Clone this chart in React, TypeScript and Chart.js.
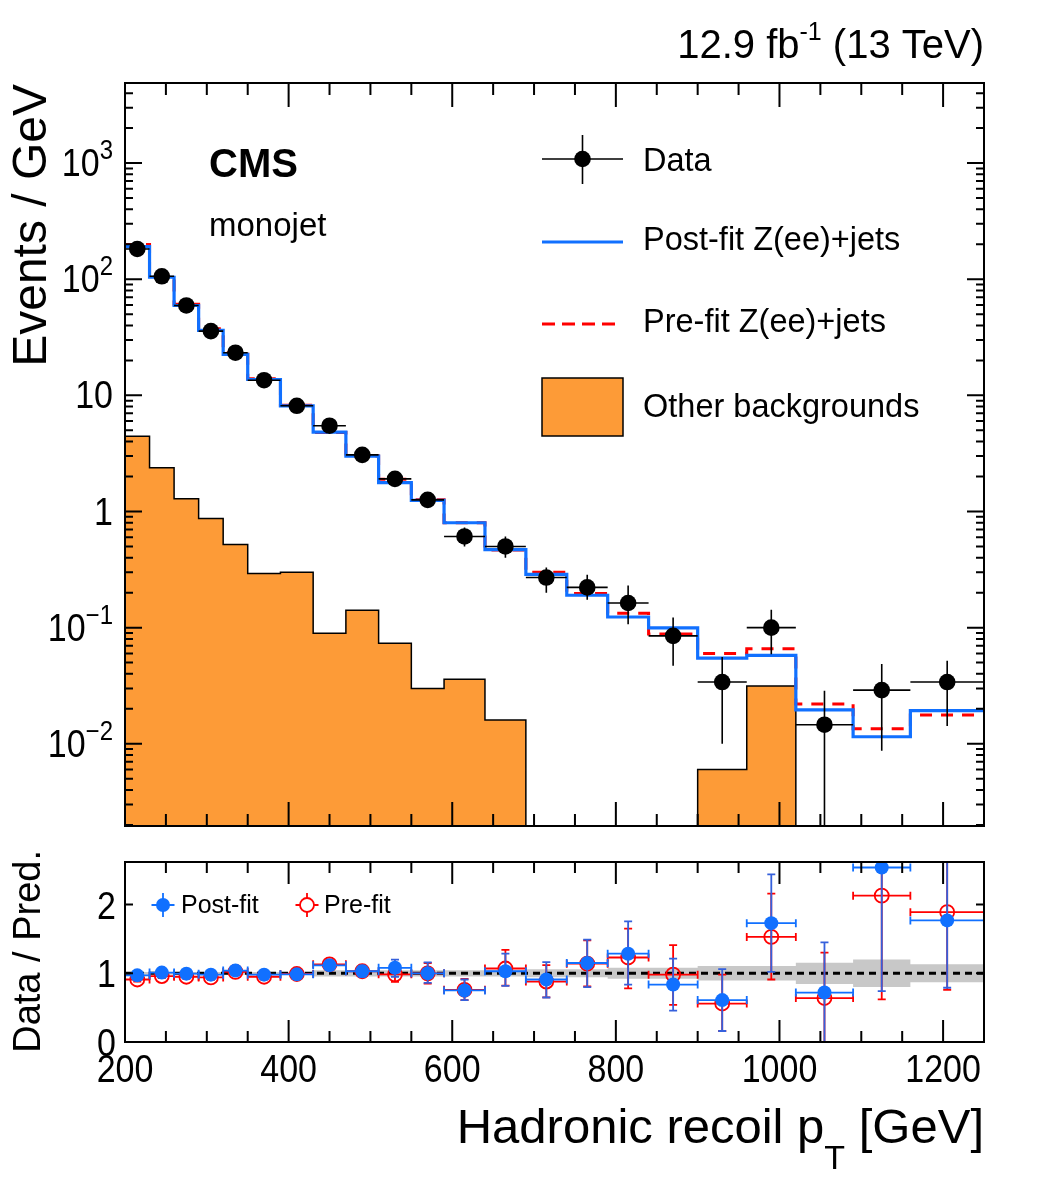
import React, { useEffect, useRef } from "react";
import { Chart, registerables } from "chart.js";

Chart.register(...registerables);

// ---------------- data ----------------
const binEdges = [200, 230, 260, 290, 320, 350, 390, 430, 470, 510, 550, 590, 640, 690, 740, 790, 840, 900, 960, 1020, 1090, 1160, 1250];

const dataValues = [182, 106, 59.4, 35.7, 23.3, 13.5, 8.13, 5.48, 3.07, 1.91, 1.26, 0.61, 0.5, 0.27, 0.222, 0.163, 0.085, 0.034, 0.1, 0.0146, 0.029, 0.034];
const dataErrUp = [2.5, 1.9, 1.4, 1.1, 0.8, 0.6, 0.45, 0.37, 0.28, 0.22, 0.18, 0.12, 0.108, 0.06, 0.064, 0.068, 0.037, 0.022, 0.0425, 0.014, 0.0196, 0.018];
const dataErrDown = [2.5, 1.9, 1.4, 1.1, 0.8, 0.6, 0.45, 0.37, 0.28, 0.22, 0.18, 0.11, 0.1, 0.07, 0.048, 0.056, 0.038, 0.024, 0.041, 0.0146, 0.0203, 0.0198];

const postFitZee = [191, 104, 59.4, 36.3, 22.5, 13.7, 8.13, 4.82, 3.0, 1.77, 1.245, 0.8, 0.47, 0.287, 0.19, 0.1235, 0.0997, 0.0547, 0.0577, 0.0196, 0.0115, 0.0193];
const preFitZee = [199, 108, 61, 37.5, 23.3, 13.9, 8.2, 4.8, 3.0, 1.9, 1.26, 0.8, 0.466, 0.3, 0.197, 0.133, 0.088, 0.06, 0.0657, 0.022, 0.0135, 0.0177];
const otherBackgrounds = [4.45, 2.38, 1.29, 0.87, 0.52, 0.293, 0.3, 0.0895, 0.141, 0.0735, 0.03, 0.036, 0.016, 0, 0, 0, 0, 0.006, 0.0314, 0, 0, 0];

const postFitRatio = [0.97, 1.01, 0.995, 0.98, 1.04, 0.98, 0.985, 1.116, 1.03, 1.08, 1.0, 0.75, 1.03, 0.91, 1.15, 1.285, 0.836, 0.61, 1.73, 0.72, 2.54, 1.77];
const postFitRatioErrUp = [0.03, 0.03, 0.03, 0.035, 0.04, 0.04, 0.05, 0.07, 0.08, 0.12, 0.16, 0.16, 0.256, 0.254, 0.34, 0.47, 0.377, 0.45, 0.71, 0.73, 1.8, 1.03];
const postFitRatioErrDown = [0.03, 0.03, 0.03, 0.035, 0.04, 0.04, 0.05, 0.07, 0.08, 0.13, 0.14, 0.14, 0.214, 0.262, 0.35, 0.45, 0.38, 0.45, 0.71, 0.72, 1.8, 0.98];
const preFitRatio = [0.91, 0.96, 0.95, 0.94, 1.02, 0.95, 0.99, 1.13, 1.03, 0.985, 1.0, 0.76, 1.07, 0.88, 1.14, 1.23, 0.98, 0.56, 1.53, 0.64, 2.13, 1.89];
const preFitRatioErrUp = [0.03, 0.03, 0.03, 0.035, 0.04, 0.04, 0.05, 0.07, 0.08, 0.11, 0.15, 0.16, 0.27, 0.24, 0.34, 0.42, 0.43, 0.42, 0.63, 0.66, 1.5, 1.1];
const preFitRatioErrDown = [0.03, 0.03, 0.03, 0.035, 0.04, 0.04, 0.05, 0.07, 0.08, 0.11, 0.15, 0.15, 0.25, 0.23, 0.33, 0.45, 0.44, 0.4, 0.62, 0.64, 1.51, 1.13];
const ratioUncHalf = [0.02, 0.02, 0.02, 0.02, 0.02, 0.02, 0.02, 0.045, 0.045, 0.045, 0.045, 0.045, 0.045, 0.058, 0.058, 0.08, 0.08, 0.106, 0.106, 0.155, 0.2, 0.13];

const xMajorTicks = [200, 400, 600, 800, 1000, 1200];
const xMajorLabels = ["200", "400", "600", "800", "1000", "1200"];
const xMinorTicks = [250, 300, 350, 450, 500, 550, 650, 700, 750, 850, 900, 950, 1050, 1100, 1150];
const yMajorTicks = [0.01, 0.1, 1, 10, 100, 1000];
const yTickBase = ["10", "10", "1", "10", "10", "10"];
const yTickExp = ["\u22122", "\u22121", "", "", "2", "3"];
const yMinorMantissas = [2, 3, 4, 5, 6, 7, 8, 9];
const yMinorDecades = [0.001, 0.01, 0.1, 1, 10, 100, 1000];
const ratioTicks = [0, 1, 2];
const ratioTickLabels = ["0", "1", "2"];

// ---------------- style ----------------
const FONT = '"Liberation Sans", Arial, Helvetica, sans-serif';
const BLUE = "#1170ff";
const BLUE_V = "#3560dc";
const RED = "#ff0000";
const ORANGE = "#fd9b37";
const BAND = "#c8c8c8";
const X_MIN = 200;
const X_MAX = 1250;
const Y_MIN = 0.00196;
const Y_MAX = 4890;
const R_MIN = 0;
const R_MAX = 2.62;
const BOT_OFF = 840;
const TICK_STRETCH = 1.12;

const centers = binEdges.slice(0, -1).map((e, i) => (e + binEdges[i + 1]) / 2);

function stepPoints(vals: number[], floor: number) {
  const pts = vals.map((v, i) => ({ x: binEdges[i], y: v > 0 ? v : floor }));
  const last = vals[vals.length - 1];
  pts.push({ x: binEdges[binEdges.length - 1], y: last > 0 ? last : floor });
  return pts;
}

function txt(ctx: CanvasRenderingContext2D, s: string, x: number, y: number, size: number, align: CanvasTextAlign = "left", bold = false, color = "#000") {
  ctx.font = `${bold ? "bold " : ""}${size}px ${FONT}`;
  ctx.textAlign = align;
  ctx.textBaseline = "alphabetic";
  ctx.fillStyle = color;
  ctx.fillText(s, x, y);
}

// text stretched vertically around its baseline
function txtS(ctx: CanvasRenderingContext2D, s: string, x: number, y: number, size: number, align: CanvasTextAlign = "left", sy = TICK_STRETCH) {
  ctx.save();
  ctx.translate(x, y);
  ctx.scale(1, sy);
  txt(ctx, s, 0, 0, size, align);
  ctx.restore();
}

function width(ctx: CanvasRenderingContext2D, s: string, size: number, bold = false) {
  ctx.font = `${bold ? "bold " : ""}${size}px ${FONT}`;
  return ctx.measureText(s).width;
}

function clipArea(ctx: CanvasRenderingContext2D, a: any) {
  ctx.beginPath();
  ctx.rect(a.left, a.top, a.right - a.left, a.bottom - a.top);
  ctx.clip();
}

// ---------------- top panel plugin ----------------
const topPlugin = {
  id: "topDeco",
  beforeDatasetDraw(chart: any, args: any) {
    if (args.index !== 0) return;
    const { ctx, chartArea: a } = chart;
    const xs = chart.scales.x;
    const ys = chart.scales.y;
    ctx.save();
    clipArea(ctx, a);
    ctx.strokeStyle = "#000";
    ctx.lineWidth = 1.6;
    dataValues.forEach((v, i) => {
      const cx = xs.getPixelForValue(centers[i]);
      const cy = ys.getPixelForValue(v);
      const yU = ys.getPixelForValue(v + dataErrUp[i]);
      const lo = v - dataErrDown[i];
      const yD = ys.getPixelForValue(lo > Y_MIN ? lo : Y_MIN);
      ctx.beginPath();
      ctx.moveTo(cx, yU);
      ctx.lineTo(cx, yD);
      ctx.moveTo(xs.getPixelForValue(binEdges[i]), cy);
      ctx.lineTo(xs.getPixelForValue(binEdges[i + 1]), cy);
      ctx.stroke();
    });
    ctx.restore();
  },
  afterDraw(chart: any) {
    const { ctx, chartArea: a } = chart;
    const xs = chart.scales.x;
    const ys = chart.scales.y;
    ctx.save();
    ctx.strokeStyle = "#000";
    ctx.lineWidth = 2;
    ctx.beginPath();
    xMajorTicks.forEach((v) => {
      const p = xs.getPixelForValue(v);
      ctx.moveTo(p, a.bottom);
      ctx.lineTo(p, a.bottom - 24);
      ctx.moveTo(p, a.top);
      ctx.lineTo(p, a.top + 24);
    });
    xMinorTicks.forEach((v) => {
      const p = xs.getPixelForValue(v);
      ctx.moveTo(p, a.bottom);
      ctx.lineTo(p, a.bottom - 12);
      ctx.moveTo(p, a.top);
      ctx.lineTo(p, a.top + 12);
    });
    yMajorTicks.forEach((v) => {
      const p = ys.getPixelForValue(v);
      ctx.moveTo(a.left, p);
      ctx.lineTo(a.left + 17, p);
      ctx.moveTo(a.right, p);
      ctx.lineTo(a.right - 17, p);
    });
    yMinorDecades.forEach((d) => {
      yMinorMantissas.forEach((m) => {
        const v = d * m;
        if (v <= Y_MIN || v >= Y_MAX) return;
        const p = ys.getPixelForValue(v);
        ctx.moveTo(a.left, p);
        ctx.lineTo(a.left + 8, p);
        ctx.moveTo(a.right, p);
        ctx.lineTo(a.right - 8, p);
      });
    });
    ctx.stroke();
    ctx.strokeRect(a.left, a.top, a.right - a.left, a.bottom - a.top);

    // y tick labels
    yMajorTicks.forEach((v, i) => {
      const p = ys.getPixelForValue(v);
      const right = 113;
      const base = p + 13;
      let ew = 0;
      if (yTickExp[i]) {
        ew = width(ctx, yTickExp[i], 24);
        txtS(ctx, yTickExp[i], right, base - 17, 24, "right");
      }
      txtS(ctx, yTickBase[i], right - ew, base, 34, "right");
    });

    // y title
    ctx.save();
    ctx.translate(46, 84);
    ctx.rotate(-Math.PI / 2);
    txt(ctx, "Events / GeV", 0, 0, 48, "right");
    ctx.restore();

    // header
    {
      const w3 = width(ctx, " (13 TeV)", 40);
      const w2 = width(ctx, "-1", 25);
      const w1 = width(ctx, "12.9 fb", 40);
      const x0 = a.right - (w1 + w2 + w3);
      txt(ctx, "12.9 fb", x0, 58, 40);
      txt(ctx, "-1", x0 + w1, 40, 25);
      txt(ctx, " (13 TeV)", x0 + w1 + w2, 58, 40);
    }

    // CMS label
    txt(ctx, "CMS", 209, 177, 40, "left", true);
    txt(ctx, "monojet", 209, 236, 33);

    // legend
    ctx.lineWidth = 1.6;
    ctx.strokeStyle = "#000";
    ctx.beginPath();
    ctx.moveTo(542, 159);
    ctx.lineTo(623, 159);
    ctx.moveTo(582.5, 135);
    ctx.lineTo(582.5, 184);
    ctx.stroke();
    ctx.fillStyle = "#000";
    ctx.beginPath();
    ctx.arc(582.5, 159, 8.3, 0, Math.PI * 2);
    ctx.fill();
    txt(ctx, "Data", 643, 171, 32.5);

    ctx.strokeStyle = BLUE;
    ctx.lineWidth = 3;
    ctx.beginPath();
    ctx.moveTo(542, 242);
    ctx.lineTo(623, 242);
    ctx.stroke();
    txt(ctx, "Post-fit Z(ee)+jets", 643, 250, 32.5);

    ctx.strokeStyle = RED;
    ctx.setLineDash([13, 7]);
    ctx.beginPath();
    ctx.moveTo(542, 324);
    ctx.lineTo(622, 324);
    ctx.stroke();
    ctx.setLineDash([]);
    txt(ctx, "Pre-fit Z(ee)+jets", 643, 332, 32.5);

    ctx.fillStyle = ORANGE;
    ctx.fillRect(542, 378, 81, 58);
    ctx.strokeStyle = "#000";
    ctx.lineWidth = 1.5;
    ctx.strokeRect(542, 378, 81, 58);
    txt(ctx, "Other backgrounds", 643, 417, 32.5);

    ctx.restore();
  },
};

// ---------------- ratio panel plugin ----------------
function drawRatioErrors(chart: any, vals: number[], up: number[], dn: number[], hColor: string, vColor: string) {
  const { ctx, chartArea: a } = chart;
  const xs = chart.scales.x;
  const ys = chart.scales.y;
  ctx.save();
  clipArea(ctx, a);
  ctx.lineWidth = 1.8;
  const cap = 4;
  vals.forEach((v, i) => {
    const cx = xs.getPixelForValue(centers[i]);
    const cy = ys.getPixelForValue(v);
    const yU = ys.getPixelForValue(v + up[i]);
    const yD = ys.getPixelForValue(v - dn[i]);
    const xL = xs.getPixelForValue(binEdges[i]);
    const xR = xs.getPixelForValue(binEdges[i + 1]);
    ctx.strokeStyle = hColor;
    ctx.beginPath();
    ctx.moveTo(xL, cy);
    ctx.lineTo(xR, cy);
    ctx.moveTo(xL, cy - cap);
    ctx.lineTo(xL, cy + cap);
    ctx.moveTo(xR, cy - cap);
    ctx.lineTo(xR, cy + cap);
    ctx.stroke();
    ctx.strokeStyle = vColor;
    ctx.beginPath();
    ctx.moveTo(cx, yU);
    ctx.lineTo(cx, yD);
    ctx.moveTo(cx - cap, yU);
    ctx.lineTo(cx + cap, yU);
    ctx.moveTo(cx - cap, yD);
    ctx.lineTo(cx + cap, yD);
    ctx.stroke();
  });
  ctx.restore();
}

const ratioPlugin = {
  id: "ratioDeco",
  beforeDatasetDraw(chart: any, args: any) {
    if (args.index === 1) drawRatioErrors(chart, preFitRatio, preFitRatioErrUp, preFitRatioErrDown, RED, RED);
    if (args.index === 0) drawRatioErrors(chart, postFitRatio, postFitRatioErrUp, postFitRatioErrDown, BLUE, BLUE_V);
  },
  afterDraw(chart: any) {
    const { ctx, chartArea: a } = chart;
    const xs = chart.scales.x;
    const ys = chart.scales.y;
    ctx.save();
    ctx.strokeStyle = "#000";
    ctx.lineWidth = 2;
    ctx.beginPath();
    xMajorTicks.forEach((v) => {
      const p = xs.getPixelForValue(v);
      ctx.moveTo(p, a.bottom);
      ctx.lineTo(p, a.bottom - 22);
      ctx.moveTo(p, a.top);
      ctx.lineTo(p, a.top + 22);
    });
    xMinorTicks.forEach((v) => {
      const p = xs.getPixelForValue(v);
      ctx.moveTo(p, a.bottom);
      ctx.lineTo(p, a.bottom - 11);
      ctx.moveTo(p, a.top);
      ctx.lineTo(p, a.top + 11);
    });
    ratioTicks.forEach((v) => {
      const p = ys.getPixelForValue(v);
      ctx.moveTo(a.left, p);
      ctx.lineTo(a.left + 8, p);
      ctx.moveTo(a.right, p);
      ctx.lineTo(a.right - 8, p);
    });
    ctx.stroke();
    ctx.strokeRect(a.left, a.top, a.right - a.left, a.bottom - a.top);

    // tick labels
    ratioTicks.forEach((v, i) => {
      const p = ys.getPixelForValue(v);
      txtS(ctx, ratioTickLabels[i], 116, p + 14, 34, "right");
    });
    xMajorTicks.forEach((v, i) => {
      const p = xs.getPixelForValue(v);
      txtS(ctx, xMajorLabels[i], p, 1082 - BOT_OFF, 34, "center");
    });

    // y title
    ctx.save();
    ctx.translate(40, 850 - BOT_OFF);
    ctx.rotate(-Math.PI / 2);
    txt(ctx, "Data / Pred.", 0, 0, 38, "right");
    ctx.restore();

    // x title
    {
      const w1 = width(ctx, "Hadronic recoil p", 49);
      const w2 = width(ctx, "T", 34);
      const w3 = width(ctx, " [GeV]", 49);
      const x0 = a.right - (w1 + w2 + w3);
      const b = 1143 - BOT_OFF;
      txt(ctx, "Hadronic recoil p", x0, b, 49);
      txt(ctx, "T", x0 + w1, b + 26, 34);
      txt(ctx, " [GeV]", x0 + w1 + w2, b, 49);
    }

    // legend
    const ly = 905 - BOT_OFF;
    const drawMarker = (cx: number, color: string, filled: boolean) => {
      ctx.strokeStyle = color;
      ctx.lineWidth = 1.8;
      ctx.beginPath();
      ctx.moveTo(cx - 11.5, ly);
      ctx.lineTo(cx + 11.5, ly);
      ctx.moveTo(cx, ly - 12);
      ctx.lineTo(cx, ly + 12);
      ctx.stroke();
      ctx.beginPath();
      ctx.arc(cx, ly, 7, 0, Math.PI * 2);
      if (filled) {
        ctx.fillStyle = color;
        ctx.fill();
      } else {
        ctx.fillStyle = "#fff";
        ctx.fill();
        ctx.stroke();
      }
    };
    drawMarker(163, BLUE, true);
    txt(ctx, "Post-fit", 181, 913 - BOT_OFF, 25);
    drawMarker(307, RED, false);
    txt(ctx, "Pre-fit", 324, 913 - BOT_OFF, 25);
    ctx.restore();
  },
};

export default function App() {
  const topRef = useRef<HTMLCanvasElement>(null);
  const botRef = useRef<HTMLCanvasElement>(null);

  useEffect(() => {
    const dataPts = dataValues.map((v, i) => ({ x: centers[i], y: v }));
    const top = new Chart(topRef.current as HTMLCanvasElement, {
      type: "line",
      data: {
        datasets: [
          {
            label: "Data",
            data: dataPts,
            showLine: false,
            pointRadius: 8.3,
            pointHoverRadius: 8.3,
            pointBackgroundColor: "#000",
            pointBorderWidth: 0,
            borderColor: "#000",
          },
          {
            label: "Post-fit Z(ee)+jets",
            data: stepPoints(postFitZee, Y_MIN),
            stepped: "before",
            borderColor: BLUE,
            borderWidth: 3.2,
            pointRadius: 0,
            fill: false,
            borderJoinStyle: "miter",
          },
          {
            label: "Pre-fit Z(ee)+jets",
            data: stepPoints(preFitZee, Y_MIN),
            stepped: "before",
            borderColor: RED,
            borderWidth: 3,
            borderDash: [12, 9],
            pointRadius: 0,
            fill: false,
          },
          {
            label: "Other backgrounds",
            data: stepPoints(otherBackgrounds, Y_MIN),
            stepped: "before",
            borderColor: "#000",
            borderWidth: 1.5,
            backgroundColor: ORANGE,
            fill: "start",
            pointRadius: 0,
          },
        ],
      } as any,
      options: {
        responsive: false,
        animation: false,
        events: [],
        layout: { padding: { left: 125, top: 83, right: 64, bottom: 14 } },
        plugins: { legend: { display: false }, tooltip: { enabled: false }, title: { display: false } },
        scales: {
          x: { type: "linear", min: X_MIN, max: X_MAX, display: false },
          y: { type: "logarithmic", min: Y_MIN, max: Y_MAX, display: false },
        },
      } as any,
      plugins: [topPlugin as any],
    });

    const postPts = postFitRatio.map((v, i) => ({ x: centers[i], y: v }));
    const prePts = preFitRatio.map((v, i) => ({ x: centers[i], y: v }));
    const bandUp = ratioUncHalf.map((h) => 1 + h);
    const bandDn = ratioUncHalf.map((h) => 1 - h);
    const bot = new Chart(botRef.current as HTMLCanvasElement, {
      type: "line",
      data: {
        datasets: [
          {
            label: "Post-fit",
            data: postPts,
            showLine: false,
            pointRadius: 7,
            pointHoverRadius: 7,
            pointBackgroundColor: BLUE,
            pointBorderWidth: 0,
            borderColor: BLUE,
          },
          {
            label: "Pre-fit",
            data: prePts,
            showLine: false,
            pointRadius: 7,
            pointHoverRadius: 7,
            pointBackgroundColor: "rgba(255,255,255,0)",
            pointBorderColor: RED,
            pointBorderWidth: 1.8,
            borderColor: RED,
          },
          {
            label: "unity",
            data: [
              { x: X_MIN, y: 1 },
              { x: X_MAX, y: 1 },
            ],
            borderColor: "#000",
            borderWidth: 3,
            borderDash: [7, 5],
            pointRadius: 0,
            fill: false,
          },
          {
            label: "band up",
            data: stepPoints(bandUp, 0),
            stepped: "before",
            borderWidth: 0,
            borderColor: "rgba(0,0,0,0)",
            pointRadius: 0,
            fill: false,
          },
          {
            label: "band down",
            data: stepPoints(bandDn, 0),
            stepped: "before",
            borderWidth: 0,
            borderColor: "rgba(0,0,0,0)",
            backgroundColor: BAND,
            pointRadius: 0,
            fill: "-1",
          },
        ],
      } as any,
      options: {
        responsive: false,
        animation: false,
        events: [],
        layout: { padding: { left: 125, top: 22, right: 64, bottom: 140 } },
        plugins: { legend: { display: false }, tooltip: { enabled: false }, title: { display: false } },
        scales: {
          x: { type: "linear", min: X_MIN, max: X_MAX, display: false },
          y: { type: "linear", min: R_MIN, max: R_MAX, display: false },
        },
      } as any,
      plugins: [ratioPlugin as any],
    });

    return () => {
      top.destroy();
      bot.destroy();
    };
  }, []);

  return (
    <div style={{ position: "absolute", left: 0, top: 0, width: 1048, height: 1182, background: "#fff" }}>
      <canvas ref={topRef} width={1048} height={840} style={{ position: "absolute", left: 0, top: 0 }} />
      <canvas ref={botRef} width={1048} height={342} style={{ position: "absolute", left: 0, top: BOT_OFF }} />
    </div>
  );
}
